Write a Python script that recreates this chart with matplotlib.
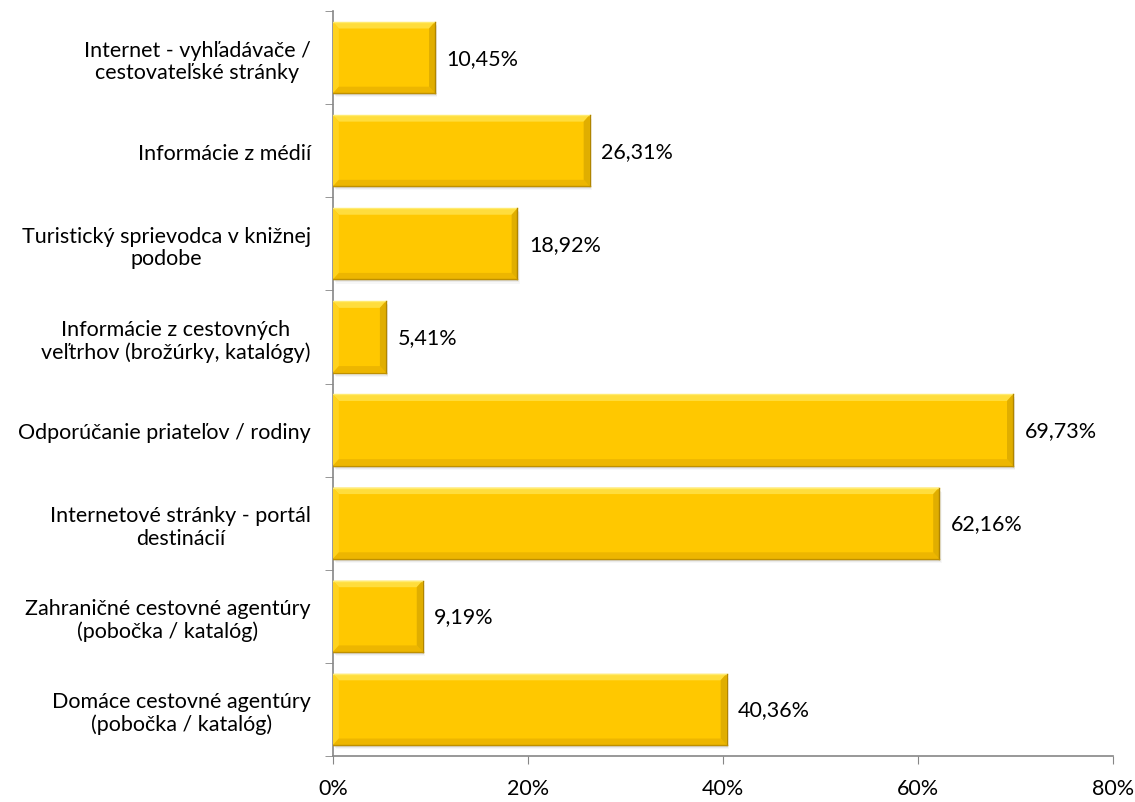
import matplotlib.pyplot as plt
from matplotlib.patches import Polygon, Rectangle
from matplotlib.ticker import FuncFormatter

plt.rcParams['font.family'] = ['Lato', 'DejaVu Sans']

categories = [
    "Internet - vyhľadávače /\ncestovateľské stránky",
    "Informácie z médií",
    "Turistický sprievodca v knižnej\npodobe",
    "Informácie z cestovných\nveľtrhov (brožúrky, katalógy)",
    "Odporúčanie priateľov / rodiny",
    "Internetové stránky - portál\ndestinácií",
    "Zahraničné cestovné agentúry\n(pobočka / katalóg)",
    "Domáce cestovné agentúry\n(pobočka / katalóg)",
]
values = [10.45, 26.31, 18.92, 5.41, 69.73, 62.16, 9.19, 40.36]
xticks = [0, 20, 40, 60, 80]

fig = plt.figure(figsize=(11.35, 8.03), dpi=100)
ax = fig.add_axes([0.2934, 0.0573, 0.6872, 0.9277])

n = len(categories)
ypos = list(range(n))
height = 0.765
gold = "#FFC800"
fs = 15.5

ax.set_xlim(0, 80)
ax.set_ylim(n - 0.5, -0.5)

# bevel size in data units (about 6 px each way)
bx = 0.6
by = 0.07

for y, v in zip(ypos, values):
    top = y - height / 2
    bot = y + height / 2
    # soft drop shadow
    for k, a in enumerate([0.08, 0.05, 0.03]):
        ax.add_patch(Rectangle((0.1 + 0.08 * k, top + 0.02 + 0.012 * k), v, height,
                               facecolor="#000000", alpha=a, lw=0, zorder=1))
    ax.barh(y, v, height=height, color=gold, lw=0, zorder=2)
    # bevel edges: lighter top/left, darker bottom/right
    ax.add_patch(Polygon([(0, top), (v, top), (v - bx, top + by), (bx, top + by)],
                         closed=True, facecolor="#FFDD3C", lw=0, zorder=3))
    ax.add_patch(Polygon([(0, top), (bx, top + by), (bx, bot - by), (0, bot)],
                         closed=True, facecolor="#FFD21E", lw=0, zorder=3))
    ax.add_patch(Polygon([(0, bot), (bx, bot - by), (v - bx, bot - by), (v, bot)],
                         closed=True, facecolor="#EDB600", lw=0, zorder=3))
    ax.add_patch(Polygon([(v, top), (v, bot), (v - bx, bot - by), (v - bx, top + by)],
                         closed=True, facecolor="#E0AE00", lw=0, zorder=3))
    ax.plot([0, v], [top, top], color="#FFEB70", lw=1.0, zorder=4)
    ax.plot([v, v], [top, bot], color="#B08500", lw=1.0, zorder=4)
    ax.plot([0, v], [bot, bot], color="#BF9000", lw=1.0, zorder=4)
    ax.text(v + 1.2, y, f"{v:.2f}".replace(".", ",") + "%", va="center", ha="left",
            fontsize=fs, color="#000000")

ax.set_yticks(ypos)
ax.set_yticklabels(categories, fontsize=fs, multialignment="center", linespacing=1.15)
ax.tick_params(axis="y", which="major", length=0, pad=16)
ax.set_yticks([i - 0.5 for i in range(n + 1)], minor=True)
ax.tick_params(axis="y", which="minor", length=6, color="#868686", direction="out")

ax.set_xticks(xticks)
ax.xaxis.set_major_formatter(FuncFormatter(lambda x, p: f"{x:.0f}%"))
ax.tick_params(axis="x", length=6, color="#868686", labelsize=fs, pad=10)

for side in ["top", "right"]:
    ax.spines[side].set_visible(False)
for side in ["left", "bottom"]:
    ax.spines[side].set_color("#868686")
    ax.spines[side].set_linewidth(1.2)

fig.savefig("out.png", dpi=100)
